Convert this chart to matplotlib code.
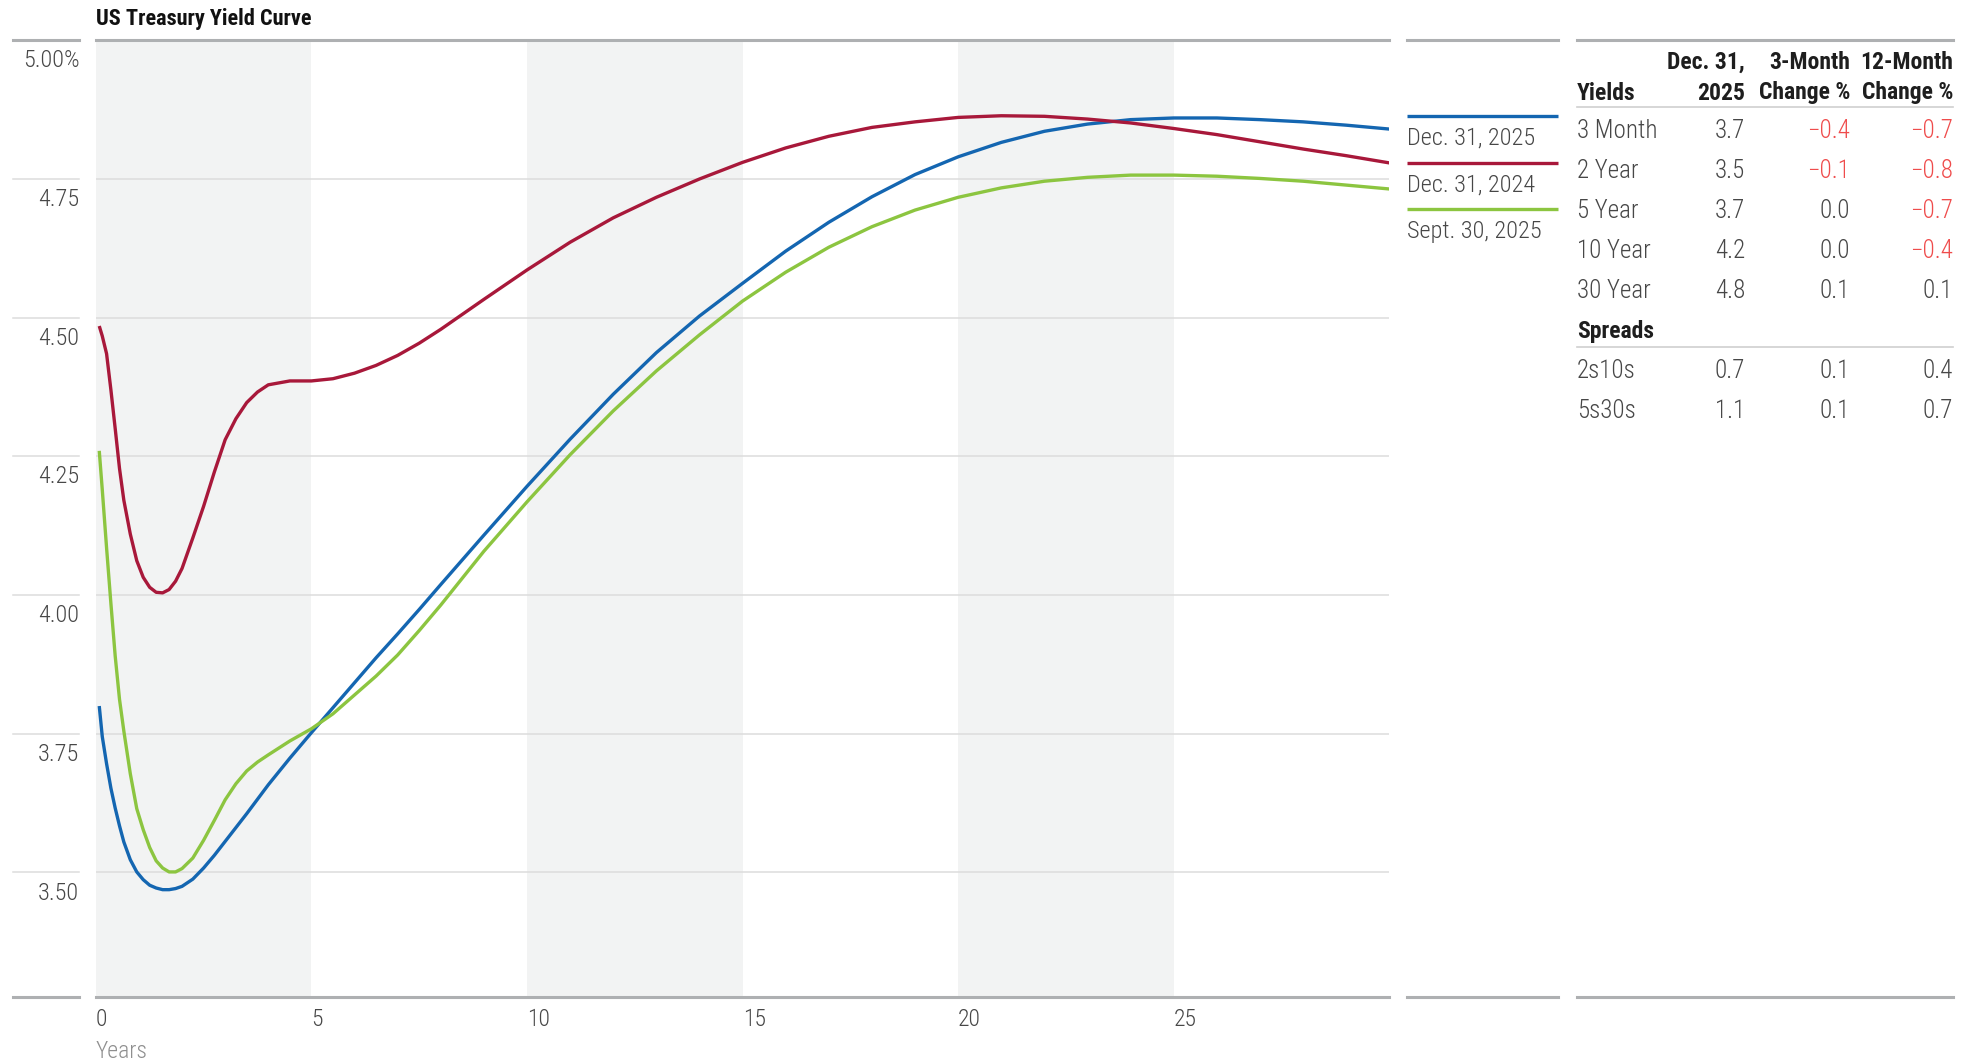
import matplotlib
matplotlib.use("Agg")
import matplotlib.pyplot as plt
import matplotlib.transforms as mtransforms

plt.rcParams['font.family'] = ['Roboto Condensed', 'Archivo Narrow', 'DejaVu Sans']

# maturity in years and yields (%) for each curve
years = [0.08, 0.15, 0.25, 0.35, 0.45, 0.55, 0.65, 0.8, 0.95, 1.1, 1.25, 1.4,
         1.55, 1.7, 1.85, 2.0, 2.25, 2.5, 2.75, 3.0, 3.25, 3.5, 3.75, 4.0, 4.5,
         5.0, 5.5, 6.0, 6.5, 7.0, 7.5, 8.0, 9, 10, 11, 12, 13, 14, 15, 16, 17,
         18, 19, 20, 21, 22, 23, 24, 25, 26, 27, 28, 29, 30]

dec_2025 = [3.80, 3.745, 3.696, 3.652, 3.616, 3.584, 3.555, 3.523, 3.501, 3.487,
            3.477, 3.472, 3.469, 3.469, 3.471, 3.475, 3.488, 3.508, 3.531, 3.556,
            3.581, 3.606, 3.632, 3.658, 3.706, 3.752, 3.797, 3.842, 3.887, 3.93,
            3.974, 4.019, 4.108, 4.196, 4.281, 4.362, 4.437, 4.503, 4.562, 4.620,
            4.672, 4.718, 4.758, 4.790, 4.816, 4.836, 4.849, 4.857, 4.860, 4.860,
            4.857, 4.853, 4.847, 4.840]

dec_2024 = [4.485, 4.467, 4.435, 4.37, 4.30, 4.228, 4.171, 4.11, 4.062, 4.032,
            4.014, 4.005, 4.004, 4.01, 4.025, 4.048, 4.103, 4.16, 4.222, 4.28,
            4.318, 4.347, 4.366, 4.379, 4.386, 4.386, 4.39, 4.40, 4.414, 4.432,
            4.454, 4.479, 4.533, 4.586, 4.636, 4.680, 4.717, 4.750, 4.780, 4.806,
            4.827, 4.843, 4.853, 4.861, 4.864, 4.863, 4.858, 4.851, 4.841, 4.830,
            4.817, 4.804, 4.792, 4.779]

sep_2025 = [4.26, 4.19, 4.085, 3.985, 3.89, 3.812, 3.755, 3.678, 3.615, 3.577,
            3.545, 3.521, 3.508, 3.501, 3.501, 3.507, 3.526, 3.558, 3.594, 3.631,
            3.660, 3.683, 3.699, 3.712, 3.737, 3.759, 3.786, 3.82, 3.854, 3.892,
            3.936, 3.982, 4.079, 4.168, 4.253, 4.332, 4.404, 4.469, 4.53, 4.582,
            4.627, 4.664, 4.694, 4.717, 4.734, 4.746, 4.753, 4.757, 4.757, 4.755,
            4.751, 4.746, 4.739, 4.732]

series_names = ['Dec. 31, 2025', 'Dec. 31, 2024', 'Sept. 30, 2025']
series_colors = ['#1466b1', '#a8183a', '#8cc540']

y_ticks = [3.50, 3.75, 4.00, 4.25, 4.50, 4.75, 5.00]
y_labels = ['3.50', '3.75', '4.00', '4.25', '4.50', '4.75', '5.00%']
x_ticks = [0, 5, 10, 15, 20, 25]
bands = [(0, 5), (10, 15), (20, 25)]

# side table
yield_rows = ['3 Month', '2 Year', '5 Year', '10 Year', '30 Year']
yield_now = [3.7, 3.5, 3.7, 4.2, 4.8]
yield_chg_3m = [-0.4, -0.1, 0.0, 0.0, 0.1]
yield_chg_12m = [-0.7, -0.8, -0.7, -0.4, 0.1]
spread_rows = ['2s10s', '5s30s']
spread_now = [0.7, 1.1]
spread_chg_3m = [0.1, 0.1]
spread_chg_12m = [0.4, 0.7]

W, H = 1977, 1062
TXT = '#474747'
HEAD = '#1e1e1e'
NEG = '#ef4c4c'
RULE = '#aeb0b2'
GRID = '#dcdcdc'
FS = 17
LIGHT = 'light'

fig = plt.figure(figsize=(W / 100, H / 100), dpi=100)

ax = fig.add_axes([95.8 / W, 1 - 997.3 / H, 1293.6 / W, 957.0 / H])
ax.set_xlim(0, 30)
ax.set_ylim(3.275, 5.0)

for a, b in bands:
    ax.axvspan(a, b, color='#f2f3f3', lw=0, zorder=0)

for v in y_ticks[:-1]:
    ax.axhline(v, color=GRID, lw=1.1, zorder=1)
    ax.plot([-0.0643, -0.0127], [v, v], transform=ax.get_yaxis_transform(),
            color=GRID, lw=1.1, clip_on=False)
for v in [3.275, 5.0]:
    ax.axhline(v, color=RULE, lw=2.2, zorder=4, clip_on=False)
    ax.plot([-0.0643, -0.0127], [v, v], transform=ax.get_yaxis_transform(),
            color=RULE, lw=2.2, clip_on=False)

for vals, col in zip([dec_2025, dec_2024, sep_2025], series_colors):
    ax.plot(years, vals, color=col, lw=2.4, solid_capstyle='butt',
            solid_joinstyle='round', zorder=3)

for s in ax.spines.values():
    s.set_visible(False)
ax.set_yticks([])
ax.set_xticks(x_ticks)
ax.set_xticklabels([str(t) for t in x_ticks], ha='left', fontsize=FS,
                   color=TXT, fontweight=LIGHT)
ax.tick_params(axis='x', length=0, pad=7.5)

lab_tr = mtransforms.offset_copy(ax.get_yaxis_transform(), fig=fig, x=0, y=-14.8, units='points')
for v, lab in zip(y_ticks, y_labels):
    ax.text(-0.0127, v, lab, transform=lab_tr, ha='right', va='center',
            fontsize=FS + 0.5, color=TXT, fontweight=LIGHT)

# overlay in pixel units for the title, legend and table
pane = fig.add_axes([0, 0, 1, 1], zorder=5)
pane.set_xlim(0, W)
pane.set_ylim(H, 0)
pane.axis('off')
pane.patch.set_alpha(0)

pane.text(96, 25, 'US Treasury Yield Curve', fontsize=16, fontweight='bold',
          color='#111111', va='baseline')
pane.text(96, 1052, 'Years', fontsize=FS, color='#8f8f8f', va='center', fontweight=LIGHT)

# legend panel
for x0, x1 in [(1407, 1558), (1577, 1953)]:
    pane.plot([x0, x1], [40.3, 40.3], color=RULE, lw=2.2)
    pane.plot([x0, x1], [997.3, 997.3], color=RULE, lw=2.2)

for i, (name, col) in enumerate(zip(series_names, series_colors)):
    ly = 116 + i * 46.7
    pane.plot([1407, 1558], [ly, ly], color=col, lw=2.4, solid_capstyle='butt')
    pane.text(1407, ly + 22.5, name, fontsize=FS + 0.5, color=TXT, va='center',
              fontweight=LIGHT)

# table
cols = [1745, 1850, 1953]
pane.text(1577, 93, 'Yields', fontsize=FS, fontweight='bold', color=HEAD, va='center')
heads = [('Dec. 31,', '2025'), ('3-Month', 'Change %'), ('12-Month', 'Change %')]
for cx, (h1, h2) in zip(cols, heads):
    pane.text(cx, 62.7, h1, fontsize=FS, fontweight='bold', color=HEAD, ha='right', va='center')
    pane.text(cx, 93, h2, fontsize=FS, fontweight='bold', color=HEAD, ha='right', va='center')
pane.plot([1577, 1953], [107.2, 107.2], color='#cfcfcf', lw=1.2)


def fmt(v):
    return ('\u2212%.1f' % abs(v)) if v < 0 else '%.1f' % v


def table_row(y, name, vals):
    pane.text(1577, y, name, fontsize=FS + 1, color=TXT, va='center', fontweight=LIGHT)
    for cx, v in zip(cols, vals):
        pane.text(cx, y, fmt(v), fontsize=FS + 1, color=NEG if v < 0 else TXT,
                  ha='right', va='center', fontweight=LIGHT)


for i, name in enumerate(yield_rows):
    table_row(131 + i * 40.0, name, [yield_now[i], yield_chg_3m[i], yield_chg_12m[i]])

pane.text(1577, 331.5, 'Spreads', fontsize=FS, fontweight='bold', color=HEAD, va='center')
pane.plot([1577, 1953], [346.7, 346.7], color='#cfcfcf', lw=1.2)
for i, name in enumerate(spread_rows):
    table_row(370.7 + i * 40.3, name, [spread_now[i], spread_chg_3m[i], spread_chg_12m[i]])

fig.savefig('out.png', dpi=100)
